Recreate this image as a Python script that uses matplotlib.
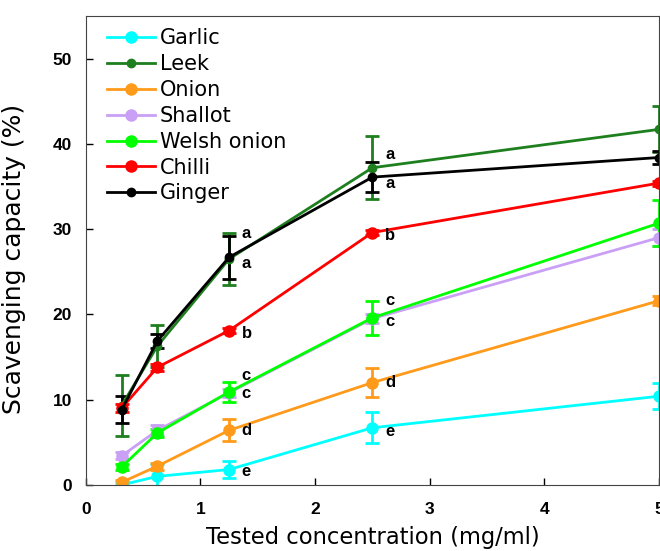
import numpy as np
import matplotlib.pyplot as plt
from matplotlib.lines import Line2D

plt.rcParams['font.family'] = ['Liberation Sans', 'DejaVu Sans']

# Tested concentrations (mg/ml)
conc = [0.3125, 0.625, 1.25, 2.5, 5]

names = ['Garlic', 'Leek', 'Onion', 'Shallot', 'Welsh onion', 'Chilli', 'Ginger']
colors = ['#00FFFF', '#1E7F1E', '#FF9A1A', '#C9A0F5', '#00FF00', '#FF0000', '#000000']

garlic = [0.0, 1.0, 1.8, 6.7, 10.4]
garlic_err = [0.3, 1.4, 1.0, 1.8, 1.5]
leek = [9.3, 16.3, 26.5, 37.2, 41.7]
leek_err = [3.6, 2.5, 3.1, 3.7, 2.7]
onion = [0.3, 2.2, 6.4, 12.0, 21.6]
onion_err = [0.3, 0.4, 1.3, 1.7, 0.5]
shallot = [3.4, 6.4, 10.8, 19.5, 29.0]
shallot_err = [0.4, 0.6, 0.5, 0.5, 1.0]
welsh = [2.1, 6.1, 10.9, 19.6, 30.7]
welsh_err = [0.4, 0.5, 1.2, 2.0, 2.7]
chilli = [9.0, 13.8, 18.1, 29.6, 35.4]
chilli_err = [0.5, 0.4, 0.3, 0.3, 0.3]
ginger = [8.8, 16.9, 26.7, 36.1, 38.4]
ginger_err = [1.6, 0.8, 2.5, 1.8, 0.8]

series = [garlic, leek, onion, shallot, welsh, chilli, ginger]
errors = [garlic_err, leek_err, onion_err, shallot_err, welsh_err, chilli_err, ginger_err]
msizes = [8, 6, 8, 8, 8, 8, 6]

# significance letters at 1.25 and 2.5 mg/ml
letters_125 = ['a', 'a', 'b', 'c', 'c', 'd', 'e']
letters_125_y = [29.5, 26.0, 17.8, 12.8, 10.7, 6.4, 1.6]
letters_25 = ['a', 'a', 'b', 'c', 'c', 'd', 'e']
letters_25_y = [38.7, 35.4, 29.2, 21.6, 19.2, 12.0, 6.3]

fig = plt.figure(figsize=(6.6, 5.51), dpi=100)
ax = fig.add_axes([0.130, 0.120, 0.8685, 0.851])

handles = []
for name, col, y, e, ms in zip(names, colors, series, errors, msizes):
    ax.errorbar(conc, y, yerr=e, color=col, marker='o', ms=ms, lw=2,
                elinewidth=2, capsize=5, capthick=2)
    handles.append(Line2D([], [], color=col, marker='o', ms=ms, lw=2, label=name))

for lab, yy in zip(letters_125, letters_125_y):
    ax.text(1.36, yy, lab, fontsize=12, fontweight='bold', va='center')
for lab, yy in zip(letters_25, letters_25_y):
    ax.text(2.61, yy, lab, fontsize=12, fontweight='bold', va='center')

ax.set_xlim(0, 5)
ax.set_ylim(0, 55)
ax.set_xticks([0, 1, 2, 3, 4, 5])
ax.set_yticks([0, 10, 20, 30, 40, 50])
ax.tick_params(direction='in', labelsize=12.5, length=5, width=1)
for t in ax.get_xticklabels() + ax.get_yticklabels():
    t.set_fontweight('bold')
ax.tick_params(axis='x', pad=12)
ax.tick_params(axis='y', pad=10)
for s in ax.spines.values():
    s.set_color('#444444')

ax.set_xlabel('Tested concentration (mg/ml)', fontsize=16.3, family='DejaVu Sans', labelpad=7)
ax.set_ylabel('Scavenging capacity (%)', fontsize=18, family='DejaVu Sans')
ax.yaxis.set_label_coords(-0.105, 0.482)

ax.legend(handles=handles, loc='upper left', frameon=False,
          prop={'family': 'DejaVu Sans', 'size': 15},
          handlelength=2.3, labelspacing=0.28, handletextpad=0.25,
          borderaxespad=0.2, bbox_to_anchor=(0.015, 1.0))

fig.savefig('out.png', dpi=100)
